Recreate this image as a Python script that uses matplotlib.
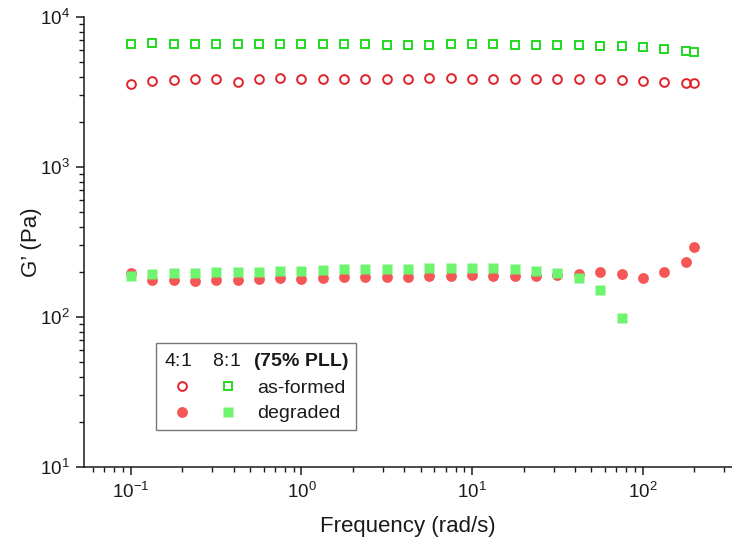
import matplotlib
matplotlib.use("Agg")
import matplotlib.pyplot as plt
from matplotlib.lines import Line2D
from matplotlib.legend_handler import HandlerTuple
from matplotlib.ticker import LogLocator, NullFormatter

plt.rcParams['font.family'] = ['Liberation Sans', 'DejaVu Sans']
plt.rcParams['mathtext.fontset'] = 'custom'
plt.rcParams['mathtext.rm'] = 'Liberation Sans'
plt.rcParams['mathtext.it'] = 'Liberation Sans:italic'
plt.rcParams['mathtext.bf'] = 'Liberation Sans:bold'

# Frequency (rad/s)
freq = [0.1, 0.133, 0.178, 0.237, 0.316, 0.422, 0.562, 0.75, 1.0, 1.33,
        1.78, 2.37, 3.16, 4.22, 5.62, 7.5, 10.0, 13.3, 17.8, 23.7,
        31.6, 42.2, 56.2, 75.0, 100.0, 133.0, 178.0, 200.0]

# G' (Pa)
g41_formed = [3560, 3730, 3820, 3845, 3880, 3700, 3860, 3900, 3890, 3890,
              3890, 3890, 3890, 3890, 3900, 3900, 3890, 3890, 3890, 3890,
              3880, 3880, 3860, 3800, 3760, 3700, 3650, 3610]
g81_formed = [6610, 6680, 6610, 6640, 6610, 6610, 6610, 6570, 6570, 6570,
              6570, 6570, 6540, 6540, 6540, 6560, 6560, 6560, 6510, 6510,
              6510, 6470, 6440, 6380, 6280, 6150, 5960, 5870]
g41_degraded = [196, 176, 176, 174, 176, 176, 178, 181, 179, 181,
                184, 184, 184, 186, 188, 188, 191, 188, 188, 188,
                190, 193, 200, 193, 181, 200, 234, 294]
g81_degraded = [188, 193, 195, 195, 199, 199, 200, 203, 203, 205,
                208, 208, 208, 209, 211, 211, 213, 211, 208, 203,
                197, 181, 151, 99]

c_red_open = '#e3222a'
c_green_open = '#22d822'
c_red_fill = '#f55656'
c_green_fill = '#6ef46e'
c_text = '#1a1a1a'

fig = plt.figure(figsize=(7.32, 5.44), dpi=100)
ax = fig.add_axes([84 / 732, 77 / 544, 648 / 732, 450 / 544])

ax.plot(freq, g41_formed, linestyle='none', marker='o', ms=6.3, mfc='none',
        mec=c_red_open, mew=1.4, zorder=3)
ax.plot(freq, g81_formed, linestyle='none', marker='s', ms=5.4, mfc='none',
        mec=c_green_open, mew=1.4, zorder=3)
ax.plot(freq, g41_degraded, linestyle='none', marker='o', ms=7.8,
        color=c_red_fill, mec='none', zorder=3)
ax.plot(freq[:len(g81_degraded)], g81_degraded, linestyle='none', marker='s',
        ms=7.0, color=c_green_fill, mec='none', zorder=4)

ax.set_xscale('log')
ax.set_yscale('log')
ax.set_xlim(0.0532, 333)
ax.set_ylim(10, 1e4)

for s in ['top', 'right']:
    ax.spines[s].set_visible(False)
for s in ['left', 'bottom']:
    ax.spines[s].set_linewidth(1.1)
    ax.spines[s].set_color(c_text)

ax.xaxis.set_major_locator(LogLocator(base=10, numticks=10))
ax.xaxis.set_minor_locator(LogLocator(base=10, subs=range(2, 10), numticks=20))
ax.yaxis.set_major_locator(LogLocator(base=10, numticks=10))
ax.yaxis.set_minor_locator(LogLocator(base=10, subs=range(2, 10), numticks=20))
ax.xaxis.set_minor_formatter(NullFormatter())
ax.yaxis.set_minor_formatter(NullFormatter())

ax.tick_params(which='major', direction='out', length=6, width=1.1,
               labelsize=13.5, colors=c_text)
ax.tick_params(axis='x', which='major', pad=5)
ax.tick_params(axis='y', which='major', pad=4)
ax.tick_params(which='minor', direction='out', length=3.5, width=1.0,
               colors=c_text)

ax.set_xlabel('Frequency (rad/s)', fontsize=16, color=c_text, labelpad=10)
ax.set_ylabel('G’ (Pa)', fontsize=16, color=c_text, labelpad=-1)

h_open = (Line2D([], [], linestyle='none', marker='o', ms=6.3, mfc='none',
                 mec=c_red_open, mew=1.4),
          Line2D([], [], linestyle='none', marker='s', ms=5.4, mfc='none',
                 mec=c_green_open, mew=1.4))
h_fill = (Line2D([], [], linestyle='none', marker='o', ms=7.8,
                 color=c_red_fill, mec='none'),
          Line2D([], [], linestyle='none', marker='s', ms=7.0,
                 color=c_green_fill, mec='none'))

leg = ax.legend([h_open, h_fill], ['as-formed', 'degraded'],
                handler_map={tuple: HandlerTuple(ndivide=None, pad=0.49)},
                loc='lower left', bbox_to_anchor=(0.111, 0.082),
                fontsize=14, title='4:1    8:1  $\\,\\mathbf{(75\\%\\ PLL)}$',
                title_fontsize=14, alignment='left',
                handlelength=4.25, handletextpad=0.56, borderpad=0.4,
                labelspacing=0.4, fancybox=False, framealpha=1,
                edgecolor='#777777', borderaxespad=0)
leg.get_frame().set_linewidth(1.0)
for t in leg.get_texts():
    t.set_color(c_text)
leg.get_title().set_color(c_text)

fig.savefig('out.png', dpi=100)
